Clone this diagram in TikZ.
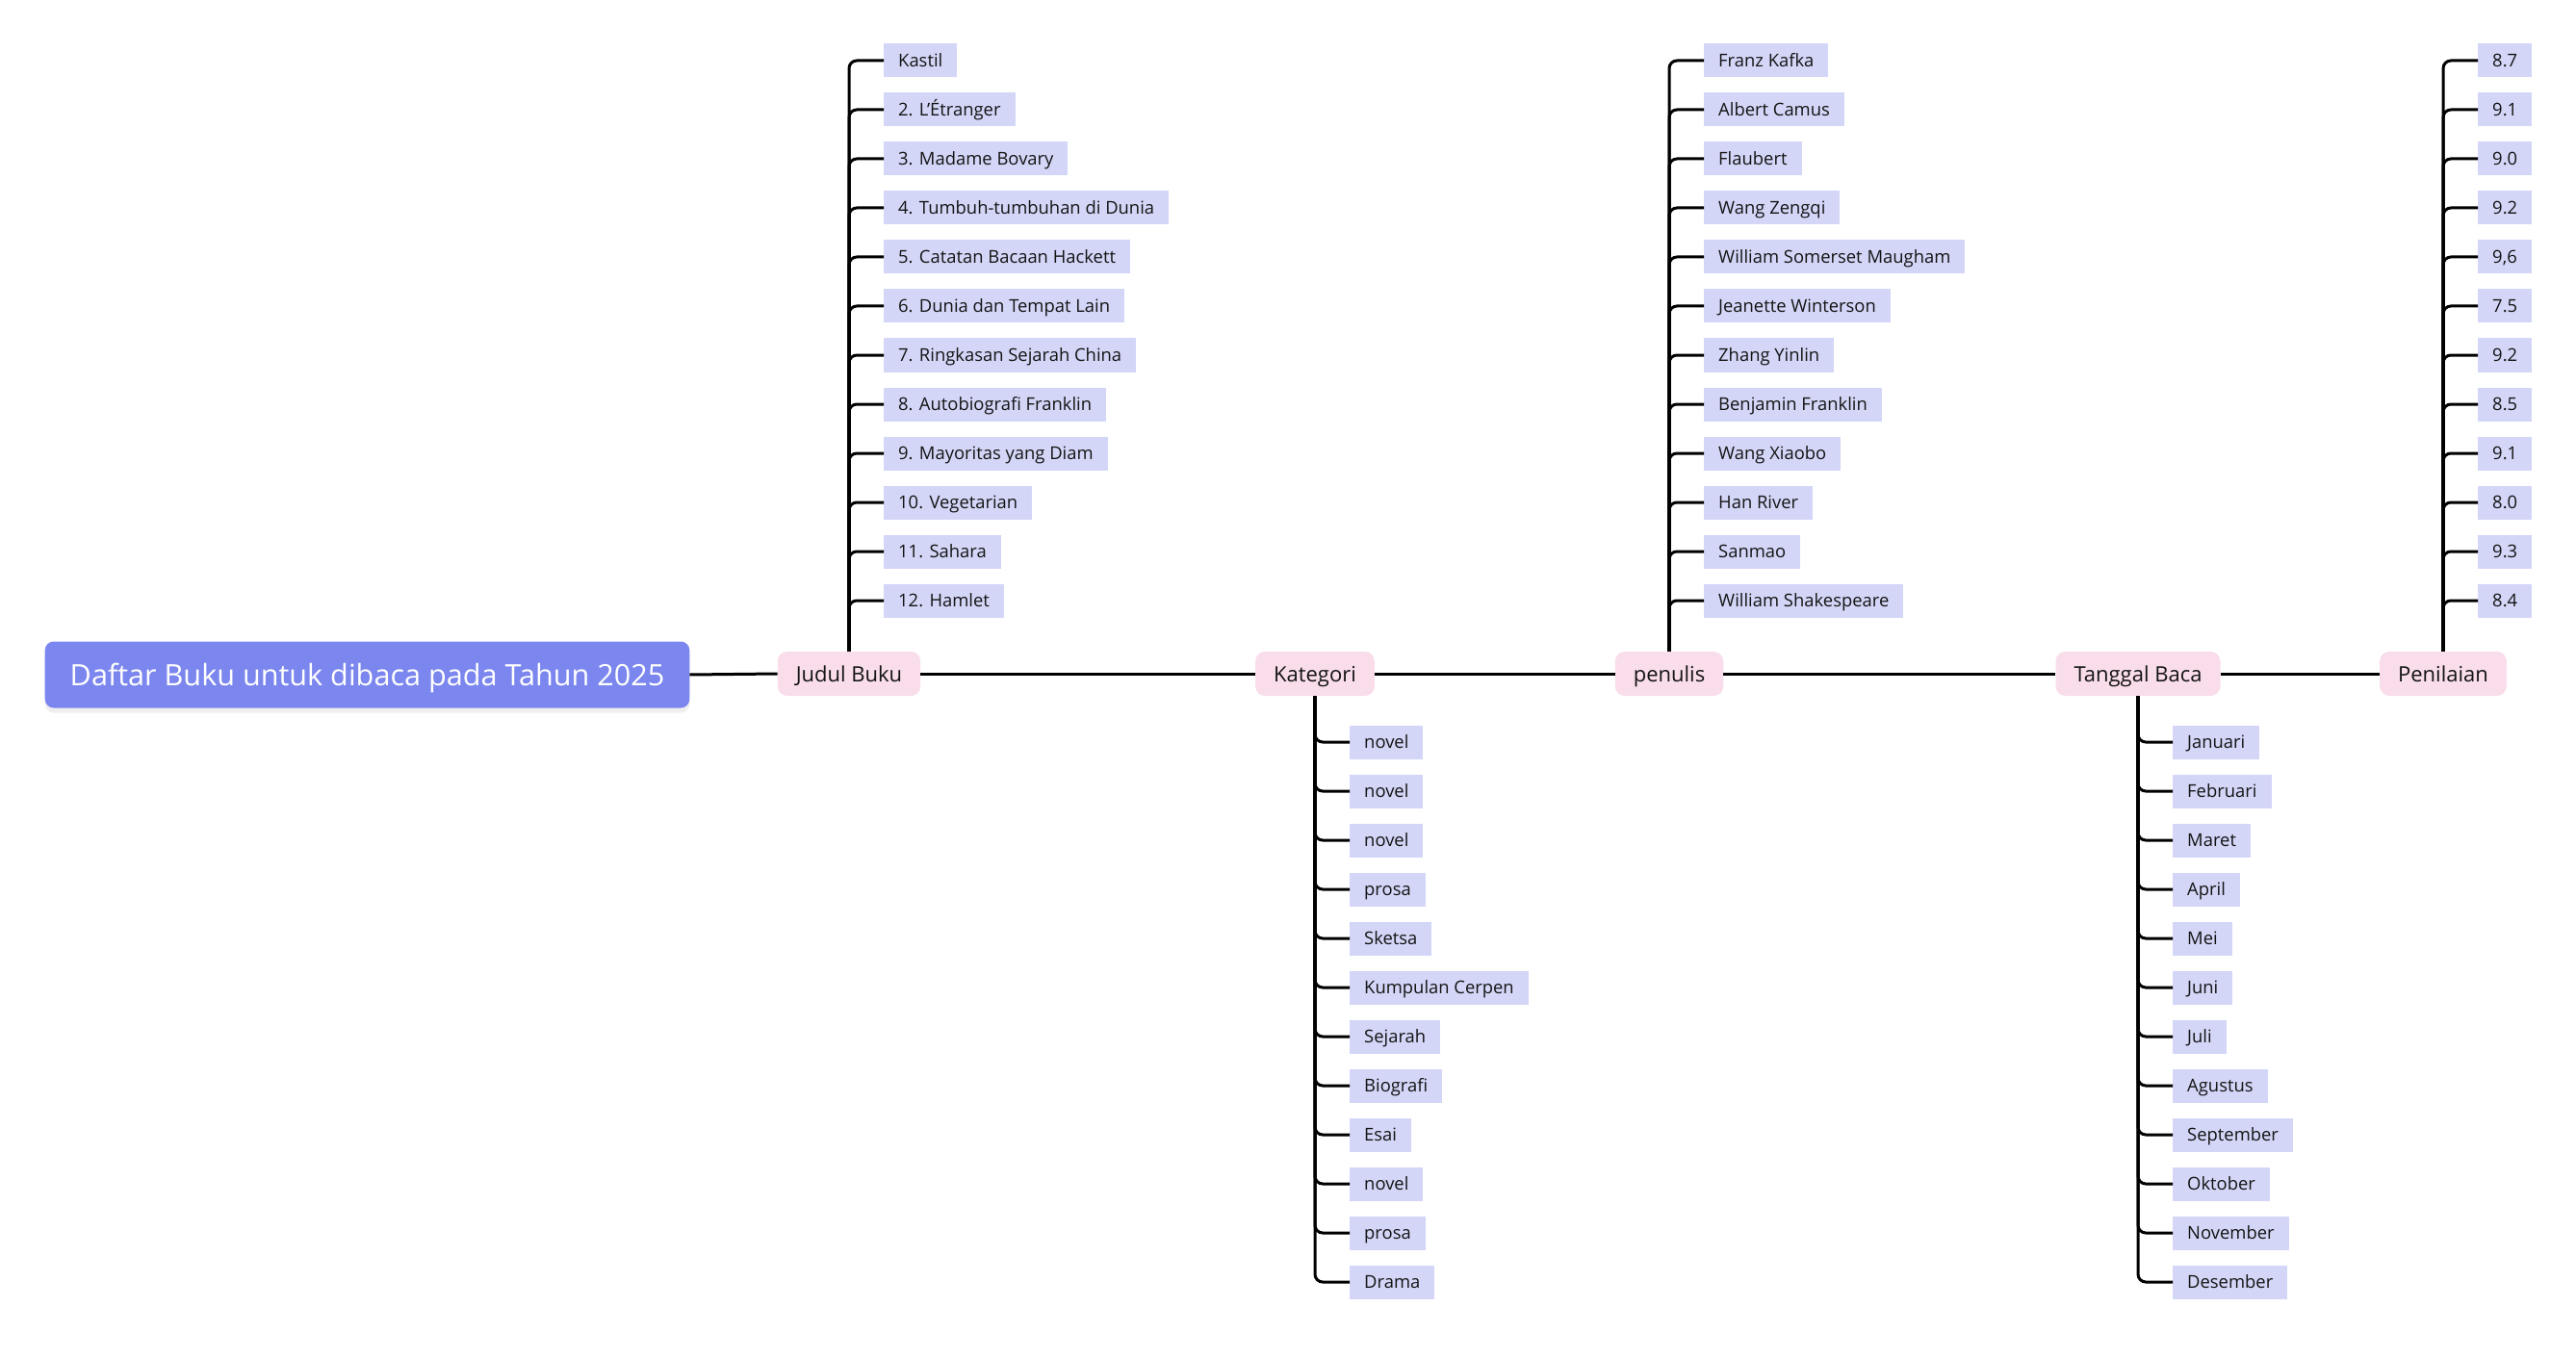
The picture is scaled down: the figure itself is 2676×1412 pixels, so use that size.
\documentclass[tikz,border=0pt]{standalone}
\usepackage{fontspec}
\setmainfont{Open Sans}
\usetikzlibrary{shadows}
\definecolor{rootblue}{HTML}{7B86EE}
\definecolor{topicpink}{HTML}{F9DDEA}
\definecolor{leafblue}{HTML}{D3D6F7}
\definecolor{txt}{HTML}{141414}
\begin{document}
\begin{tikzpicture}[x=1pt,y=-1pt,
  rootbox/.style={fill=rootblue, rounded corners=9pt, text=white, font=\fontsize{30.6}{36}\selectfont, inner xsep=26pt, inner ysep=0pt, text height=26pt, text depth=4pt, minimum height=69pt, drop shadow={opacity=0.12, shadow xshift=0pt, shadow yshift=-5pt}},
  topicbox/.style={fill=topicpink, rounded corners=10pt, text=txt, font=\fontsize{22}{26}\selectfont, inner xsep=19pt, inner ysep=0pt, text height=19pt, text depth=3pt, minimum height=46pt},
  leafbox/.style={fill=leafblue, text=txt, font=\fontsize{18.4}{22}\selectfont, inner xsep=15pt, inner ysep=0pt, text height=16pt, text depth=2.5pt, minimum height=35pt, anchor=west},
  branchline/.style={draw=black, line width=3pt, rounded corners=8pt},
  mainline/.style={draw=black, line width=3pt}]
\useasboundingbox (0,0) rectangle (2676,1412);
\fill[white] (0,0) rectangle (2676,1412);

\node[rootbox] (R) at (381.5,701) {Daftar Buku untuk dibaca pada Tahun 2025};
\node[topicbox] (J) at (882,700) {Judul Buku};
\node[topicbox] (K) at (1366,700) {Kategori};
\node[topicbox] (P) at (1734,700) {penulis};
\node[topicbox] (T) at (2221,700) {Tanggal Baca};
\node[topicbox] (N) at (2538,700) {Penilaian};

\draw[mainline] (R.east) -- (J.west);
\draw[mainline] (J.east) -- (K.west);
\draw[mainline] (K.east) -- (P.west);
\draw[mainline] (P.east) -- (T.west);
\draw[mainline] (T.east) -- (N.west);

\foreach \t [count=\i] in {Kastil, 2. L'Étranger, 3. Madame Bovary, 4. Tumbuh-tumbuhan di Dunia, 5. Catatan Bacaan Hackett, 6. Dunia dan Tempat Lain, 7. Ringkasan Sejarah China, 8. Autobiografi Franklin, 9. Mayoritas yang Diam, 10. Vegetarian, 11. Sahara, 12. Hamlet} {
  \node[leafbox] (J\i) at (918,12+51*\i) {\t};
  \draw[branchline] (J.north) |- (J\i.west);
}
\foreach \t [count=\i] in {novel, novel, novel, prosa, Sketsa, Kumpulan Cerpen, Sejarah, Biografi, Esai, novel, prosa, Drama} {
  \node[leafbox] (K\i) at (1402,720+51*\i) {\t};
  \draw[branchline] (K.south) |- (K\i.west);
}
\foreach \t [count=\i] in {Franz Kafka, Albert Camus, Flaubert, Wang Zengqi, William Somerset Maugham, Jeanette Winterson, Zhang Yinlin, Benjamin Franklin, Wang Xiaobo, Han River, Sanmao, William Shakespeare} {
  \node[leafbox] (P\i) at (1770,12+51*\i) {\t};
  \draw[branchline] (P.north) |- (P\i.west);
}
\foreach \t [count=\i] in {Januari, Februari, Maret, April, Mei, Juni, Juli, Agustus, September, Oktober, November, Desember} {
  \node[leafbox] (T\i) at (2257,720+51*\i) {\t};
  \draw[branchline] (T.south) |- (T\i.west);
}
\foreach \t [count=\i] in {8.7, 9.1, 9.0, 9.2, {9,6}, 7.5, 9.2, 8.5, 9.1, 8.0, 9.3, 8.4} {
  \node[leafbox] (N\i) at (2574,12+51*\i) {\t};
  \draw[branchline] (N.north) |- (N\i.west);
}
\end{tikzpicture}
\end{document}
